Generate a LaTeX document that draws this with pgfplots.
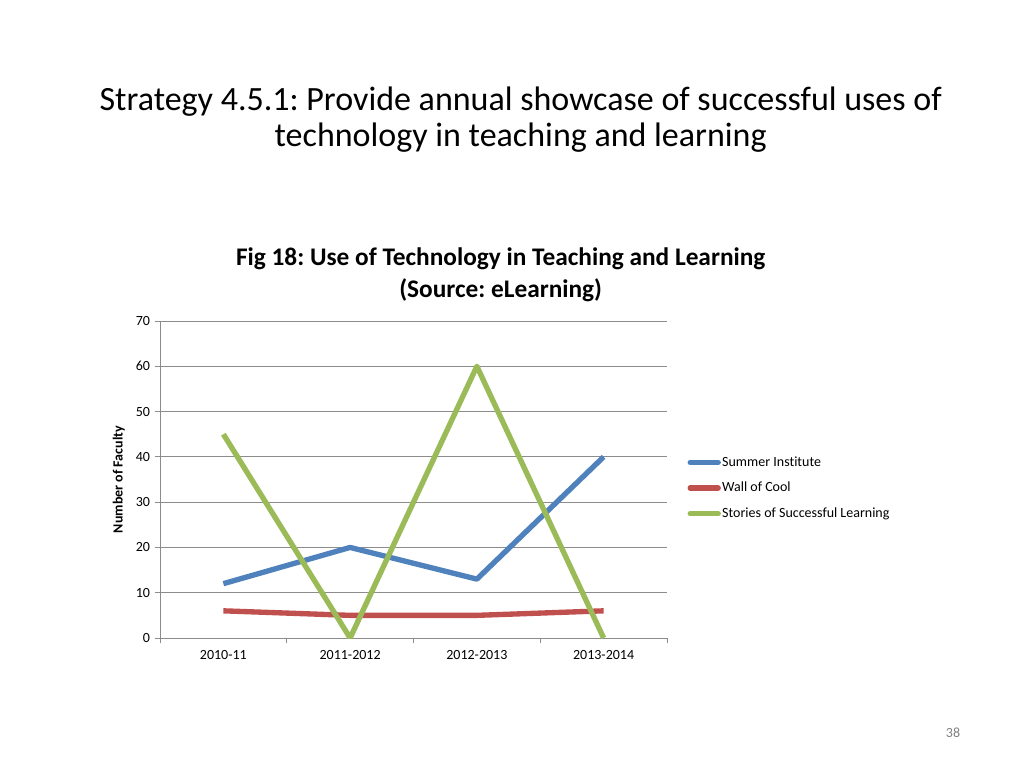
\documentclass[border=0pt]{standalone}
\usepackage{pgfplots}
\pgfplotsset{compat=1.18}
\usepackage{fontspec}
\setmainfont{Carlito}[Ligatures=NoCommon]
\frenchspacing
\definecolor{siblue}{HTML}{4F81BD}
\definecolor{wcred}{HTML}{C0504D}
\definecolor{ssgreen}{HTML}{9BBB59}
\definecolor{gridgray}{HTML}{8C8C8C}
\begin{document}
\begin{tikzpicture}
% page of 1024x768 px, 1 px = 0.75pt
\path (0pt,0pt) rectangle (768pt,576pt);
% slide title
\node[align=center,font=\fontsize{25.5}{27}\selectfont] at (390.5pt,486pt) {Strategy 4.5.1: Provide annual showcase of successful uses of\\technology in teaching and learning};
\node[text=gray,font=\fontsize{10.5}{12}\selectfont] at (714.75pt,26.25pt) {38};
\begin{axis}[
  at={(120pt,97.5pt)}, anchor=south west,
  scale only axis, width=380.25pt, height=237.75pt,
  xmin=-0.5, xmax=3.5, ymin=0, ymax=70,
  ytick={0,10,...,70},
  xtick={0,1,2,3},
  xticklabels={2010-11,2011-2012,2012-2013,2013-2014},
  minor xtick={-0.5,0.5,1.5,2.5,3.5},
  major x tick style={draw=none},
  tick align=outside,
  major tick length=4pt, minor tick length=4pt,
  tick style={gridgray, line width=0.7pt},
  axis x line*=bottom, axis y line*=left,
  axis line style={gridgray, line width=0.7pt, -},
  ymajorgrids, grid style={gridgray, line width=0.7pt},
  ticklabel style={font=\fontsize{10.5}{12}\selectfont},
  /pgf/number format/assume math mode=true,
  xticklabel style={yshift=-2pt},
  ylabel={\textbf{Number of Faculty}},
  ylabel style={font=\fontsize{10.5}{12}\selectfont, at={(axis description cs:-0.06,0.5)}},
  title={\textbf{Fig 18: Use of Technology in Teaching and Learning}\\\textbf{(Source: eLearning)}},
  title style={align=center, font=\fontsize{19}{24}\selectfont, at={(axis description cs:0.672,1.0)}, yshift=5pt},
  legend style={at={(1.04,0.59)}, anchor=north west, draw=none, fill=none,
    font=\fontsize{10.5}{12}\selectfont, row sep=6.5pt, cells={anchor=west}, inner xsep=0pt},
  legend image code/.code={\draw[#1, line cap=round] (0pt,0pt) -- (21pt,0pt);},
  legend style={/tikz/nodes={inner xsep=1pt}},
  every axis plot/.append style={line width=4pt, line join=round},
]
\addplot[siblue] coordinates {(0,12) (1,20) (2,13) (3,40)};
\addlegendentry{Summer Institute}
\addplot[wcred] coordinates {(0,6) (1,5) (2,5) (3,6)};
\addlegendentry{Wall of Cool}
\addplot[ssgreen] coordinates {(0,45) (1,0) (2,60) (3,0)};
\addlegendentry{Stories of Successful Learning}
\end{axis}
\end{tikzpicture}
\end{document}
